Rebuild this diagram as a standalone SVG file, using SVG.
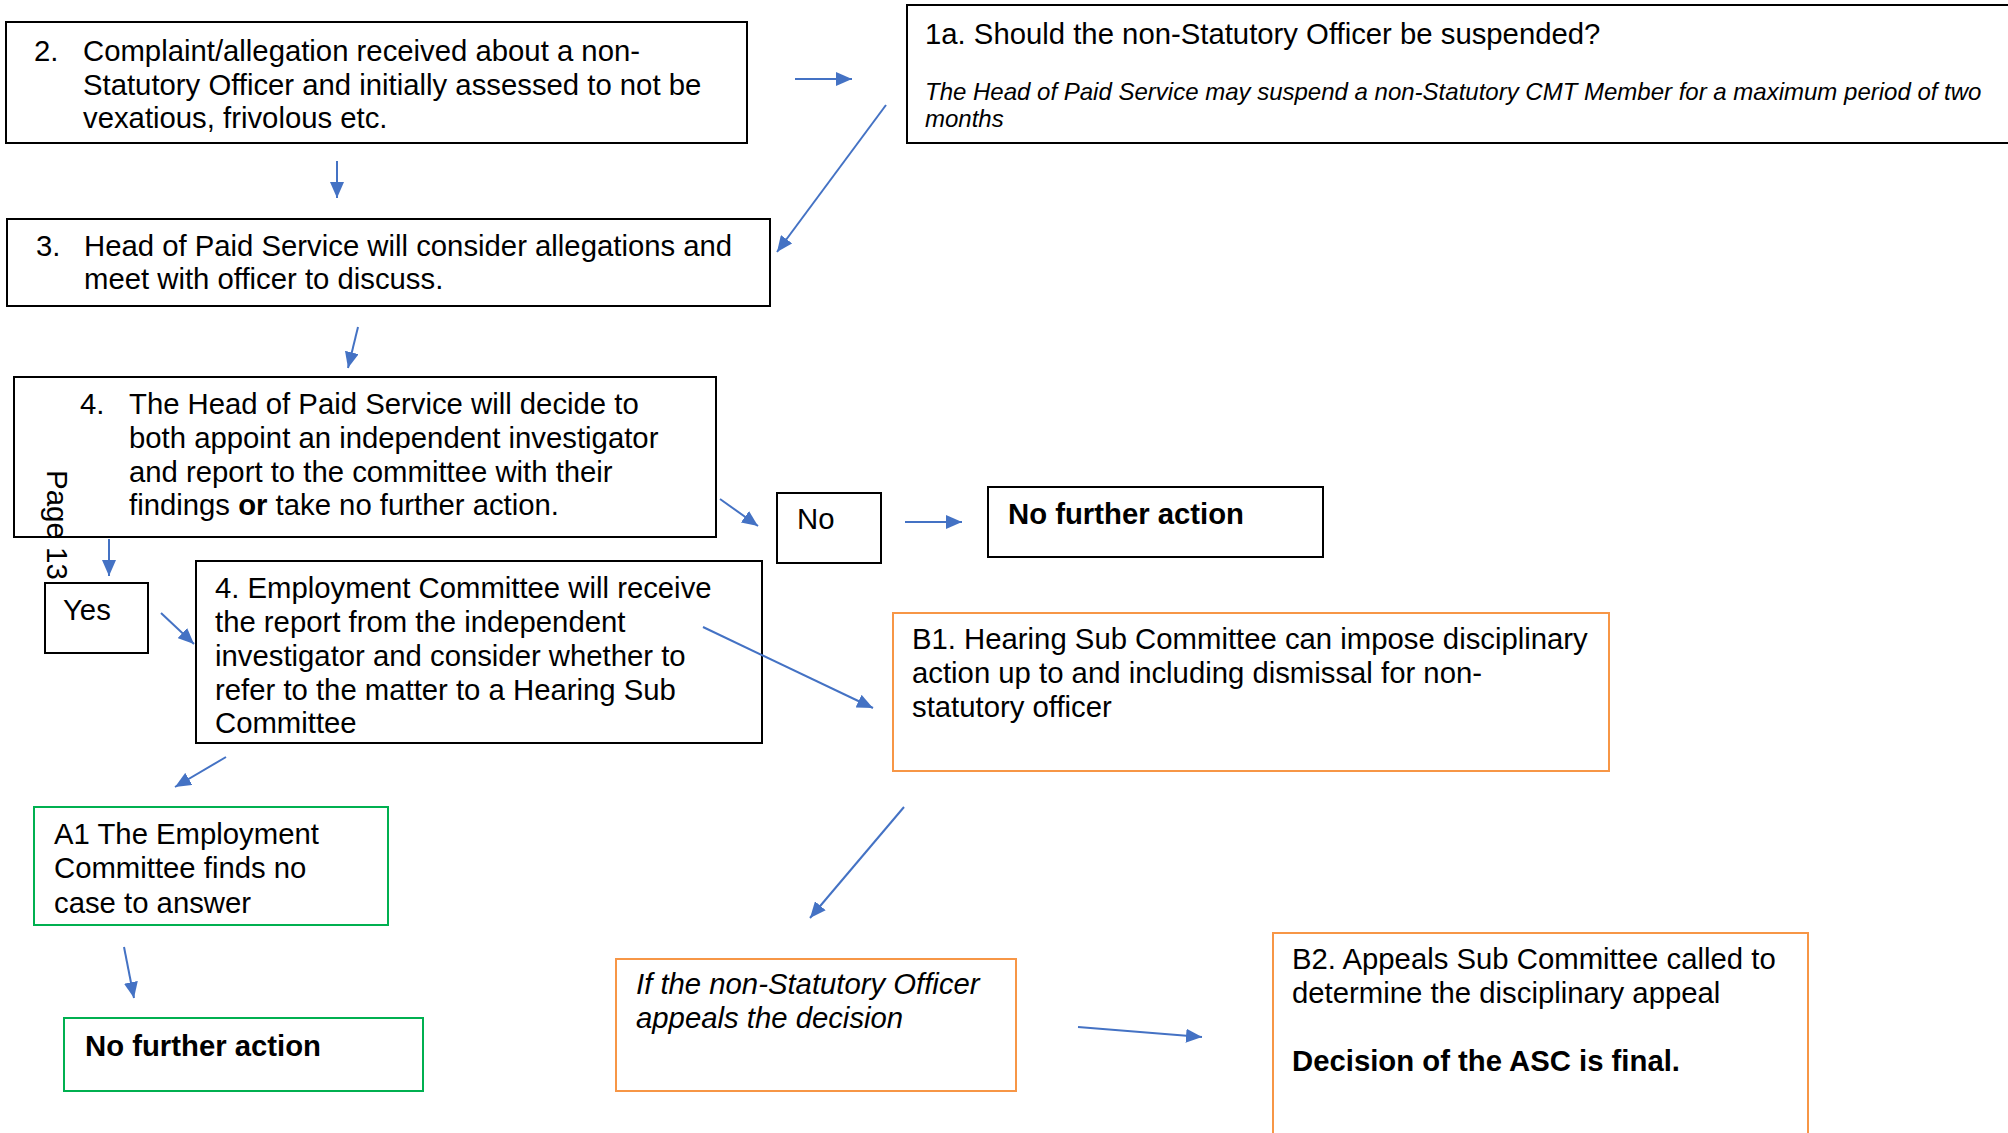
<svg xmlns="http://www.w3.org/2000/svg" width="2008" height="1133" viewBox="0 0 2008 1133">
<style>
  text { font-family: "Liberation Sans", Arial, sans-serif; font-size: 29.3px; fill: #000; }
  .it { font-style: italic; }
  .sm { font-size: 24px; }
  .b { font-weight: bold; }
  .bk { fill: #fff; stroke: #000; stroke-width: 2; }
  .or { fill: #fff; stroke: #F79646; stroke-width: 2; }
  .gr { fill: #fff; stroke: #00B050; stroke-width: 2; }
  .arr { stroke: #4472C4; stroke-width: 2; fill: none; marker-end: url(#ah); }
</style>
<defs>
  <marker id="ah" markerUnits="userSpaceOnUse" markerWidth="16" markerHeight="14" refX="16" refY="7" orient="auto">
    <path d="M0,0 L16,7 L0,14 z" fill="#4472C4"/>
  </marker>
</defs>
<rect width="2008" height="1133" fill="#fff"/>

<g id="node-2">
  <rect class="bk" x="6" y="22" width="741" height="121"/>
  <text x="34" y="61">2.</text>
  <text x="83" y="61">Complaint/allegation received about a non-</text>
  <text x="83" y="95">Statutory Officer and initially assessed to not be</text>
  <text x="83" y="128">vexatious, frivolous etc.</text>
</g>

<g id="node-1a">
  <rect class="bk" x="907" y="5" width="1110" height="138"/>
  <text x="925" y="44">1a. Should the non-Statutory Officer be suspended?</text>
  <text class="it sm" x="925" y="100">The Head of Paid Service may suspend a non-Statutory CMT Member for a maximum period of two</text>
  <text class="it sm" x="925" y="127">months</text>
</g>

<g id="node-3">
  <rect class="bk" x="7" y="219" width="763" height="87"/>
  <text x="36" y="256">3.</text>
  <text x="84" y="256">Head of Paid Service will consider allegations and</text>
  <text x="84" y="289">meet with officer to discuss.</text>
</g>

<g id="node-4">
  <rect class="bk" x="14" y="377" width="702" height="160"/>
  <text x="80" y="414">4.</text>
  <text x="129" y="414">The Head of Paid Service will decide to</text>
  <text x="129" y="448">both appoint an independent investigator</text>
  <text x="129" y="482">and report to the committee with their</text>
  <text x="129" y="515">findings <tspan class="b">or</tspan> take no further action.</text>
</g>

<g id="page-label">
  <text transform="translate(47,470) rotate(90)" style="font-size:29.5px">Page 13</text>
</g>

<g id="node-yes">
  <rect class="bk" x="45" y="583" width="103" height="70"/>
  <text x="63" y="620">Yes</text>
</g>

<g id="node-no">
  <rect class="bk" x="777" y="493" width="104" height="70"/>
  <text x="797" y="529">No</text>
</g>

<g id="node-nfa1">
  <rect class="bk" x="988" y="487" width="335" height="70"/>
  <text class="b" x="1008" y="524">No further action</text>
</g>

<g id="node-4b">
  <rect class="bk" x="196" y="561" width="566" height="182"/>
  <text x="215" y="598">4. Employment Committee will receive</text>
  <text x="215" y="632">the report from the independent</text>
  <text x="215" y="666">investigator and consider whether to</text>
  <text x="215" y="700">refer to the matter to a Hearing Sub</text>
  <text x="215" y="733">Committee</text>
</g>

<g id="node-b1">
  <rect class="or" x="893" y="613" width="716" height="158"/>
  <text x="912" y="649">B1. Hearing Sub Committee can impose disciplinary</text>
  <text x="912" y="683">action up to and including dismissal for non-</text>
  <text x="912" y="717">statutory officer</text>
</g>

<g id="node-a1">
  <rect class="gr" x="34" y="807" width="354" height="118"/>
  <text x="54" y="844">A1 The Employment</text>
  <text x="54" y="878">Committee finds no</text>
  <text x="54" y="913">case to answer</text>
</g>

<g id="node-nfa2">
  <rect class="gr" x="64" y="1018" width="359" height="73"/>
  <text class="b" x="85" y="1056">No further action</text>
</g>

<g id="node-appeal">
  <rect class="or" x="616" y="959" width="400" height="132"/>
  <text class="it" x="636" y="994">If the non-Statutory Officer</text>
  <text class="it" x="636" y="1028">appeals the decision</text>
</g>

<g id="node-b2">
  <rect class="or" x="1273" y="933" width="535" height="220"/>
  <text x="1292" y="969">B2. Appeals Sub Committee called to</text>
  <text x="1292" y="1003">determine the disciplinary appeal</text>
  <text class="b" x="1292" y="1071">Decision of the ASC is final.</text>
</g>

<g id="connectors">
  <line class="arr" x1="795" y1="79" x2="852" y2="79"/>
  <line class="arr" x1="886" y1="105" x2="777" y2="252"/>
  <line class="arr" x1="337" y1="161" x2="337" y2="198"/>
  <line class="arr" x1="358" y1="327" x2="348" y2="368"/>
  <line class="arr" x1="109" y1="539" x2="109" y2="576"/>
  <line class="arr" x1="720" y1="499" x2="758" y2="526"/>
  <line class="arr" x1="905" y1="522" x2="962" y2="522"/>
  <line class="arr" x1="161" y1="613" x2="194" y2="644"/>
  <line class="arr" x1="703" y1="627" x2="873" y2="708"/>
  <line class="arr" x1="226" y1="757" x2="175" y2="787"/>
  <line class="arr" x1="124" y1="947" x2="134" y2="998"/>
  <line class="arr" x1="904" y1="807" x2="810" y2="918"/>
  <line class="arr" x1="1078" y1="1027" x2="1202" y2="1037"/>
</g>
</svg>
